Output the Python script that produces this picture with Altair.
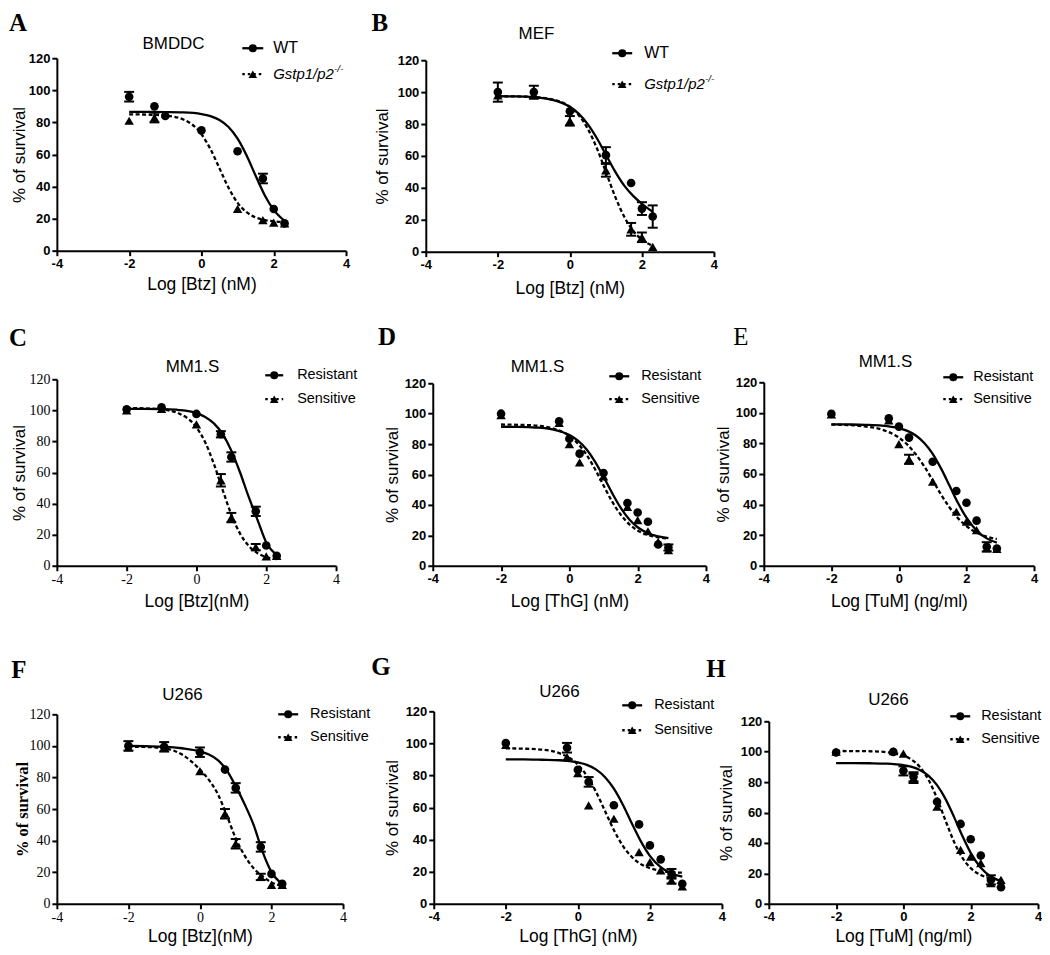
import altair as alt
import pandas as pd

SANS = "Liberation Sans"
SERIF = "Liberation Serif"

# ---------------- data ----------------
X_BTZ = [-2, -1, 0, 0.7, 1, 1.7, 2, 2.3]
X_TEN = [-2, -0.3, 0, 0.3, 1, 1.7, 2, 2.3, 2.6, 2.9]
FIT_X14 = [-2, -1.5, -1, -0.5, 0, 0.25, 0.5, 0.75, 1, 1.25, 1.5, 1.75, 2, 2.3]
FIT_X16 = [-2, -1.5, -1, -0.5, 0, 0.25, 0.5, 0.75, 1, 1.25, 1.5, 1.75, 2, 2.3, 2.6, 2.9]
X_TICKS = [-4, -2, 0, 2, 4]
Y_TICKS = [0, 20, 40, 60, 80, 100, 120]

# A  BMDDC
A_wt_x = [-2, -1.3, -1, 0, 1, 1.7, 2, 2.3]
A_wt_y = [96, 90, 84, 75, 62, 45, 26, 17]
A_wt_e = [3, 0, 0, 0, 0, 3, 0, 0]
A_ko_x = [-2, -1.3, 1, 1.7, 2, 2.3]
A_ko_y = [81, 83, 26, 19, 17.5, 17]
A_ko_e = [0, 3, 0, 0, 0, 0]
A_fit_wt = [86.5, 86.5, 86.4, 86.2, 85.2, 83.9, 81.5, 77.1, 69.8, 59.3, 46.7, 34.6, 25.4, 18.5]
A_fit_ko = [85, 84.8, 84.2, 81.8, 72.6, 63.3, 51.3, 39.2, 29.8, 24, 20.7, 19.1, 18.3, 17.8]

# B  MEF
B_x = [-2, -1, 0, 1, 1.7, 2, 2.3]
B_wt_y = [100, 100, 88, 60.5, 43, 27, 22]
B_wt_e = [6, 4, 0, 5, 0, 4, 7]
B_ko_y = [98, 98, 82, 51, 14, 9, 3]
B_ko_e = [0, 0, 3, 4, 4, 3, 0]
B_fit_wt = [97.4, 97.3, 96.8, 95.2, 90.8, 86.4, 79.8, 71.1, 60.8, 50.5, 41.7, 35.1, 30, 25]
B_fit_ko = [97.4, 97.3, 96.9, 95.5, 90.7, 85.4, 76.9, 64.8, 50, 34.9, 22.3, 13.3, 7.5, 3.7]

# C  MM1.S Btz
C_r_y = [100.7, 102, 97.7, 84.6, 70, 35, 13, 6.4]
C_r_e = [0, 0, 0, 2, 3, 3, 0, 0]
C_s_y = [100, 101, 91, 55, 31, 12, 6, 6.4]
C_s_e = [0, 0, 0, 4, 3, 2, 0, 0]
C_fit_r = [101, 101, 100.8, 100.2, 98.2, 95.8, 91.6, 84.7, 74.1, 60, 44.1, 29.5, 15, 7]
C_fit_s = [101.5, 101.3, 100.6, 98, 89, 79.5, 65.5, 48.9, 32.9, 20.7, 12.7, 8.1, 5.6, 4.2]

# D  MM1.S ThG
D_r_y = [100, 95, 83.5, 73.7, 61, 41.3, 35, 28.9, 14, 12]
D_r_e = [0, 0, 0, 0, 0, 0, 0, 0, 0, 2]
D_s_y = [99, 94, 80, 68, 58.8, 38.7, 30, 22.7, 15.7, 10.3]
D_s_e = [0, 0, 0, 0, 0, 0, 0, 0, 0, 0]
D_fit_r = [91.4, 91.3, 90.9, 89.7, 86, 82.3, 76.6, 68.5, 58.5, 47.9, 38.2, 30.6, 25.3, 21.4, 19.3, 18.2]
D_fit_s = [92.9, 92.7, 92.2, 90.4, 85.3, 80.3, 73.1, 63.6, 52.8, 42.3, 33.7, 27.4, 23.2, 20.2, 18.7, 17.8]

# E  MM1.S TuM
E_r_y = [99.3, 96.4, 91, 83.8, 68, 48.9, 41.2, 29.5, 12.4, 11.3]
E_r_e = [0, 0, 0, 0, 0, 0, 0, 0, 3, 0]
E_s_y = [99, 95, 79.6, 69.6, 55, 35.3, 28.8, 23.3, 11.3, 11]
E_s_e = [0, 0, 0, 3, 0, 0, 0, 0, 0, 0]
E_fit_r = [92.5, 92.4, 92.2, 91.7, 90, 88.2, 85.2, 80.3, 73.2, 63.5, 52.3, 41, 31.4, 23, 17.9, 15.1]
E_fit_s = [92.3, 92, 91.1, 89, 83.8, 79.2, 72.9, 65, 55.9, 46.5, 38.1, 31.1, 25.9, 21.7, 19, 17.5]

# F  U266 Btz
F_r_y = [100, 99.4, 96, 85, 73.4, 36, 18.9, 12.6]
F_r_e = [3, 3, 3, 0, 3, 3, 0, 0]
F_s_y = [99, 99, 84, 57, 38, 17, 12, 12]
F_s_e = [0, 0, 0, 3, 3, 2, 0, 0]
F_fit_r = [100, 99.8, 99.5, 98.5, 96.5, 94.5, 91, 84.5, 74.5, 63, 50, 33, 20, 12.5]
F_fit_s = [99.5, 99.3, 98.5, 94.5, 85, 78.5, 69.5, 56, 41.5, 30.5, 22.5, 17.5, 13.5, 11.5]

# G  U266 ThG
G_r_y = [100.2, 97.3, 83.6, 76, 61.4, 49.5, 36.4, 27.7, 18.7, 12.5]
G_r_e = [0, 3, 0, 3, 0, 0, 0, 0, 3, 0]
G_s_y = [99, 91.5, 81.5, 61.4, 53, 32.2, 26, 20.8, 14.6, 10.8]
G_s_e = [0, 0, 0, 0, 0, 0, 0, 0, 2, 0]
G_fit_r = [90, 90, 89.8, 89.5, 88.1, 86.6, 83.8, 79.1, 71.8, 61.8, 50.1, 38.9, 29.9, 22.8, 18.9, 16.9]
G_fit_s = [96.9, 96.7, 96.1, 93.8, 86.8, 79.8, 70, 58, 46, 36.1, 29.2, 24.7, 22.2, 20.5, 19.7, 19.4]

# H  U266 TuM
H_r_y = [99.5, 99.9, 87.4, 83.5, 67.1, 52.5, 42.4, 31.7, 15.7, 10.9]
H_r_e = [0, 0, 3, 3, 0, 0, 0, 0, 3, 0]
H_s_y = [100, 100.3, 98.8, 82.4, 63.8, 35.4, 31, 26.7, 13.6, 15.7]
H_s_e = [0, 0, 0, 3, 0, 0, 0, 0, 0, 0]
H_fit_r = [92.5, 92.5, 92.4, 92.1, 91.1, 90, 87.8, 84.1, 78, 69, 57.3, 44.7, 33.5, 23.7, 17.9, 14.9]
H_fit_s = [100.5, 100.4, 100.3, 99.7, 97.5, 94.7, 89.7, 81.4, 69.3, 54.8, 41, 30.3, 23.4, 18.9, 16.7, 15.8]

# ---------------- layout (absolute page pixels) ----------------
PANELS = [
    dict(key="A", row=0, box=(56, 57, 346, 250), cell_w=370, serif=False, ytitle_serif=False,
         title="BMDDC", title_xy=(173, 43), letter="A", letter_xy=(17, 22), letter_bold=True,
         leg=(242, 263, 47, 73, 273), leg_size=16, names=("WT", "Gstp1/p2"), sup=True,
         xtitle="Log [Btz] (nM)", xtitle_y=284, ytitle_x=19,
         r=(A_wt_x, A_wt_y, A_wt_e), s=(A_ko_x, A_ko_y, A_ko_e), fx=FIT_X14, fr=A_fit_wt, fs=A_fit_ko),
    dict(key="B", row=0, box=(426, 59, 715, 251), cell_w=289, serif=False, ytitle_serif=False,
         title="MEF", title_xy=(537, 33), letter="B", letter_xy=(380, 22), letter_bold=True,
         leg=(613, 633, 52, 83, 645), leg_size=16, names=("WT", "Gstp1/p2"), sup=True,
         xtitle="Log [Btz] (nM)", xtitle_y=288, ytitle_x=383,
         r=(B_x, B_wt_y, B_wt_e), s=(B_x, B_ko_y, B_ko_e), fx=FIT_X14, fr=B_fit_wt, fs=B_fit_ko),
    dict(key="C", row=1, box=(56, 379, 336, 566), cell_w=377, serif=True, ytitle_serif=False,
         title="MM1.S", title_xy=(192, 367), letter="C", letter_xy=(17, 338), letter_bold=True,
         leg=(265, 283, 375, 399, 297), leg_size=14.5, names=("Resistant", "Sensitive"), sup=False,
         xtitle="Log [Btz](nM)", xtitle_y=602, ytitle_x=19,
         r=(X_BTZ, C_r_y, C_r_e), s=(X_BTZ, C_s_y, C_s_e), fx=FIT_X14, fr=C_fit_r, fs=C_fit_s),
    dict(key="D", row=1, box=(433, 383, 707, 566), cell_w=332, serif=False, ytitle_serif=False,
         title="MM1.S", title_xy=(538, 367), letter="D", letter_xy=(387, 337), letter_bold=True,
         leg=(610, 630, 376, 399, 642), leg_size=14.5, names=("Resistant", "Sensitive"), sup=False,
         xtitle="Log [ThG] (nM)", xtitle_y=602, ytitle_x=393,
         r=(X_TEN, D_r_y, D_r_e), s=(X_TEN, D_s_y, D_s_e), fx=FIT_X16, fr=D_fit_r, fs=D_fit_s),
    dict(key="E", row=1, box=(765, 382, 1036, 566), cell_w=271, serif=False, ytitle_serif=False,
         title="MM1.S", title_xy=(887, 362), letter="E", letter_xy=(742, 337), letter_bold=False,
         leg=(945, 965, 377, 399, 975), leg_size=14.5, names=("Resistant", "Sensitive"), sup=False,
         xtitle="Log [TuM] (ng/ml)", xtitle_y=602, ytitle_x=725,
         r=(X_TEN, E_r_y, E_r_e), s=(X_TEN, E_s_y, E_s_e), fx=FIT_X16, fr=E_fit_r, fs=E_fit_s),
    dict(key="F", row=2, box=(56, 715, 343, 905), cell_w=378, serif=True, ytitle_serif=True,
         title="U266", title_xy=(182, 696), letter="F", letter_xy=(18, 671), letter_bold=True,
         leg=(278, 298, 715, 738, 310), leg_size=14.5, names=("Resistant", "Sensitive"), sup=False,
         xtitle="Log [Btz](nM)", xtitle_y=938, ytitle_x=22,
         r=(X_BTZ, F_r_y, F_r_e), s=(X_BTZ, F_s_y, F_s_e), fx=FIT_X14, fr=F_fit_r, fs=F_fit_s),
    dict(key="G", row=2, box=(434, 712, 723, 905), cell_w=336, serif=False, ytitle_serif=False,
         title="U266", title_xy=(560, 693), letter="G", letter_xy=(381, 668), letter_bold=True,
         leg=(623, 643, 706, 731, 655), leg_size=14.5, names=("Resistant", "Sensitive"), sup=False,
         xtitle="Log [ThG] (nM)", xtitle_y=938, ytitle_x=393,
         r=(X_TEN, G_r_y, G_r_e), s=(X_TEN, G_s_y, G_s_e), fx=FIT_X16, fr=G_fit_r, fs=G_fit_s),
    dict(key="H", row=2, box=(770, 722, 1040, 905), cell_w=270, serif=False, ytitle_serif=False,
         title="U266", title_xy=(890, 701), letter="H", letter_xy=(717, 670), letter_bold=True,
         leg=(952, 972, 717, 740, 983), leg_size=14.5, names=("Resistant", "Sensitive"), sup=False,
         xtitle="Log [TuM] (ng/ml)", xtitle_y=938, ytitle_x=728,
         r=(X_TEN, H_r_y, H_r_e), s=(X_TEN, H_s_y, H_s_e), fx=FIT_X16, fr=H_fit_r, fs=H_fit_s),
]
ROW_TOP = [57, 379, 712]           # top of the cells of each row
ROW_REGION = [(8, 302), (302, 622), (622, None)]  # bounds markers per row
PAGE_LEFT = 8

ONE = pd.DataFrame({"k": [0]})


def text_at(x, y, txt, size, font=SANS, weight="normal", style="normal", align="center",
            baseline="middle", opacity=1):
    return alt.Chart(ONE).mark_text(
        text=txt, font=font, fontSize=size, fontWeight=weight, fontStyle=style,
        align=align, baseline=baseline, color="black", opacity=opacity,
    ).encode(x=alt.value(x), y=alt.value(y))


def make_panel(p, first_in_row):
    L, T, R, B = p["box"]
    top = ROW_TOP[p["row"]]
    cw, ch = p["cell_w"], B - top
    pw, ph = R - L, B - T

    def cx(v):
        return v - L

    def cy(v):
        return v - top

    tick_font = SERIF if p["serif"] else SANS
    tick_weight = "normal" if p["serif"] else "bold"
    tick_size = 14 if p["serif"] else 13

    xscale = alt.Scale(domain=[-4, 4], range=[0, pw], nice=False, zero=False)
    yscale = alt.Scale(domain=[0, 120], range=[ch, ch - ph], nice=False, zero=False)
    common = dict(labelFont=tick_font, labelFontWeight=tick_weight, labelFontSize=tick_size,
                  labelColor="black", domainColor="black", domainWidth=2, tickColor="black",
                  tickWidth=2, tickSize=5, grid=False, labelFlush=False, labelOverlap=False,
                  titleColor="black", titleBaseline="middle", titleAlign="center")
    xaxis = alt.Axis(values=X_TICKS, labelExpr="'' + datum.value", labelPadding=2,
                     title=p["xtitle"], titleFont=SANS, titleFontSize=17.5, titleFontWeight="normal",
                     titleX=pw / 2, titleY=p["xtitle_y"] - B, **common)
    yaxis = alt.Axis(values=Y_TICKS, labelPadding=2, title="% of survival",
                     titleFont=SERIF if p["ytitle_serif"] else SANS,
                     titleFontSize=16.5 if p["ytitle_serif"] else 17,
                     titleFontWeight="bold" if p["ytitle_serif"] else "normal",
                     titleX=cx(p["ytitle_x"]), titleY=ch - ph / 2, titleAngle=270, **common)
    X = alt.X("x:Q", scale=xscale, axis=xaxis)
    Y = alt.Y("y:Q", scale=yscale, axis=yaxis)

    layers = []
    fit_df_r = pd.DataFrame({"x": p["fx"], "y": p["fr"]})
    fit_df_s = pd.DataFrame({"x": p["fx"], "y": p["fs"]})
    layers.append(alt.Chart(fit_df_r).mark_line(color="black", strokeWidth=2.3,
                                                interpolate="monotone").encode(x=X, y=Y))
    layers.append(alt.Chart(fit_df_s).mark_line(color="black", strokeWidth=2.3, strokeDash=[4, 2.5],
                                                interpolate="monotone").encode(x=X, y=Y))

    for (xs, ys, es), shape in ((p["r"], "circle"), (p["s"], "triangle-up")):
        df = pd.DataFrame({"x": xs, "y": ys})
        rows = [(x, y - e, y + e) for x, y, e in zip(xs, ys, es) if e > 0]
        if rows:
            edf = pd.DataFrame(rows, columns=["x", "lo", "hi"])
            layers.append(alt.Chart(edf).mark_rule(color="black", strokeWidth=2).encode(
                x=X, y=alt.Y("lo:Q", scale=yscale, axis=yaxis), y2="hi:Q"))
            cdf = pd.DataFrame({"x": [r[0] for r in rows] * 2,
                                "y": [r[1] for r in rows] + [r[2] for r in rows]})
            layers.append(alt.Chart(cdf).mark_tick(color="black", orient="horizontal",
                                                   thickness=2, size=10, opacity=1).encode(x=X, y=Y))
        layers.append(alt.Chart(df).mark_point(shape=shape, filled=True, size=75 if shape == "circle" else 90,
                                               color="black", opacity=1).encode(x=X, y=Y))

    # legend
    lx1, lx2, ly1, ly2, tx = p["leg"]
    for ly, dash, shape, name in ((ly1, None, "circle", p["names"][0]),
                                  (ly2, [2.5, 3], "triangle-up", p["names"][1])):
        rule_kwargs = dict(color="black", strokeWidth=2.3)
        if dash:
            rule_kwargs["strokeDash"] = dash
        layers.append(alt.Chart(ONE).mark_rule(**rule_kwargs).encode(
            x=alt.value(cx(lx1)), x2=alt.value(cx(lx2)), y=alt.value(cy(ly))))
        layers.append(alt.Chart(ONE).mark_point(shape=shape, filled=True,
                                                size=65 if shape == "circle" else 75, color="black",
                                                opacity=1).encode(
            x=alt.value(cx((lx1 + lx2) / 2)), y=alt.value(cy(ly))))
        italic = p["sup"] and shape != "circle"
        layers.append(text_at(cx(tx), cy(ly), name, p["leg_size"] if not italic else 15,
                              style="italic" if italic else "normal", align="left"))
        if italic:
            layers.append(text_at(cx(tx + 61), cy(ly - 5), "-/-", 10, style="italic", align="left"))

    # panel title and letter
    layers.append(text_at(cx(p["title_xy"][0]), cy(p["title_xy"][1]), p["title"], 17))
    layers.append(text_at(cx(p["letter_xy"][0]), cy(p["letter_xy"][1]), p["letter"], 25, font=SERIF,
                          weight="bold" if p["letter_bold"] else "normal"))

    # invisible bound markers fixing each row's extent
    if first_in_row:
        r0, r1 = ROW_REGION[p["row"]]
        layers.append(text_at(cx(PAGE_LEFT), cy(r0), ".", 1, align="left", baseline="top", opacity=0))
        if r1 is not None:
            layers.append(text_at(cx(PAGE_LEFT), cy(r1), ".", 1, align="left", baseline="bottom",
                                  opacity=0))

    return alt.layer(*layers).properties(width=cw, height=ch)


rows = []
for r in range(3):
    ps = [p for p in PANELS if p["row"] == r]
    charts = [make_panel(p, i == 0) for i, p in enumerate(ps)]
    rows.append(alt.hconcat(*charts, spacing=0, bounds="flush"))

chart = alt.vconcat(*rows, spacing=0).properties(
    padding=0, background="white"
).configure_view(stroke=None)

chart.save("out.html", embed_options={"renderer": "svg", "actions": False})
